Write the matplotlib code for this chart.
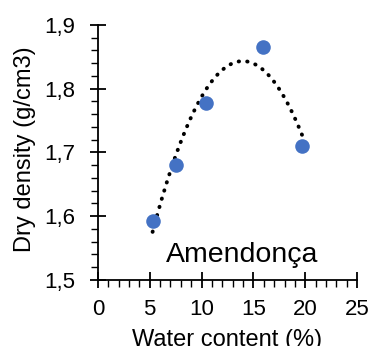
import matplotlib
matplotlib.use("Agg")
import matplotlib.pyplot as plt
from matplotlib.ticker import MultipleLocator, FuncFormatter
import numpy as np

plt.rcParams.update({"font.family": ["Liberation Sans", "DejaVu Sans"], "font.size": 16})

# compaction test, Amendonça soil
water_content = [5.28, 7.53, 10.39, 15.93, 19.72]
dry_density = [1.593, 1.680, 1.777, 1.865, 1.710]
sample_name = "Amendonça"


def comma_fmt(v, pos=None):
    return "{:.1f}".format(v).replace(".", ",")


fig = plt.figure(figsize=(3.72, 3.46), dpi=100)
ax = fig.add_axes([0.263, 0.191, 0.697, 0.737])

# second order polynomial trendline over the data range
coef = np.polyfit(water_content, dry_density, 2)
xs = np.linspace(min(water_content), max(water_content), 200)
ax.plot(xs, np.polyval(coef, xs), color="black", linewidth=2.8,
        linestyle=(0, (0.1, 2.1)), dash_capstyle="round", zorder=2)

ax.scatter(water_content, dry_density, s=110, color="#4472C4", zorder=3,
           linewidths=0)

ax.text(6.6, 1.528, sample_name, fontsize=20.5)

ax.set_xlim(0, 25)
ax.set_ylim(1.5, 1.9)
ax.xaxis.set_major_locator(MultipleLocator(5))
ax.xaxis.set_minor_locator(MultipleLocator(1))
ax.yaxis.set_major_locator(MultipleLocator(0.1))
ax.yaxis.set_minor_locator(MultipleLocator(0.02))
ax.yaxis.set_major_formatter(FuncFormatter(comma_fmt))

for side in ["top", "right"]:
    ax.spines[side].set_visible(False)
for side in ["left", "bottom"]:
    ax.spines[side].set_linewidth(1.3)
    ax.spines[side].set_color("black")

ax.tick_params(which="major", direction="inout", length=12, width=1.3,
               labelsize=16)
ax.tick_params(axis="x", which="major", pad=8)
ax.tick_params(axis="y", which="major", pad=10)
ax.tick_params(which="minor", direction="out", length=5, width=1.0)

ax.set_xlabel("Water content (%)", fontsize=17, labelpad=6)
ax.set_ylabel("Dry density (g/cm3)", fontsize=17)
ax.yaxis.set_label_coords(-0.237, 0.514)

fig.savefig("out.png", dpi=100)
